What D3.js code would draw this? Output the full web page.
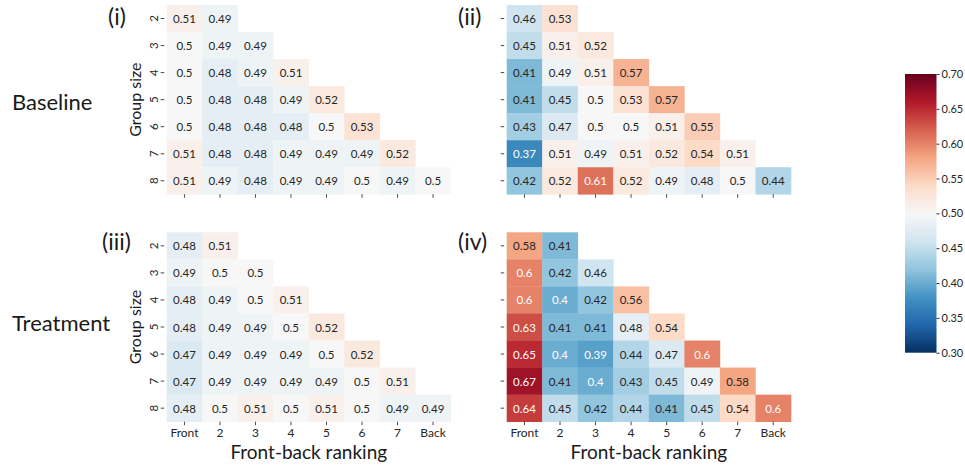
<!DOCTYPE html>
<html>
<head>
<meta charset="utf-8">
<script src="https://cdn.jsdelivr.net/npm/d3@7"></script>
<style>
  html, body { margin: 0; padding: 0; background: #fff; }
  svg { display: block; }
  text { font-family: Lato, "Open Sans", sans-serif; }
</style>
</head>
<body>
<svg id="chart" width="965" height="465"></svg>
<script>
// Group sizes (rows) and front-back positions (columns)
const groupSizes = [2, 3, 4, 5, 6, 7, 8];
const rankLabels = ["Front", "2", "3", "4", "5", "6", "7", "Back"];

// Row n holds n values: positions Front .. n-th
const valuesI = [
  [0.51, 0.49],
  [0.5, 0.49, 0.49],
  [0.5, 0.48, 0.49, 0.51],
  [0.5, 0.48, 0.48, 0.49, 0.52],
  [0.5, 0.48, 0.48, 0.48, 0.5, 0.53],
  [0.51, 0.48, 0.48, 0.49, 0.49, 0.49, 0.52],
  [0.51, 0.49, 0.48, 0.49, 0.49, 0.5, 0.49, 0.5]
];
const valuesII = [
  [0.46, 0.53],
  [0.45, 0.51, 0.52],
  [0.41, 0.49, 0.51, 0.57],
  [0.41, 0.45, 0.5, 0.53, 0.57],
  [0.43, 0.47, 0.5, 0.5, 0.51, 0.55],
  [0.37, 0.51, 0.49, 0.51, 0.52, 0.54, 0.51],
  [0.42, 0.52, 0.61, 0.52, 0.49, 0.48, 0.5, 0.44]
];
const valuesIII = [
  [0.48, 0.51],
  [0.49, 0.5, 0.5],
  [0.48, 0.49, 0.5, 0.51],
  [0.48, 0.49, 0.49, 0.5, 0.52],
  [0.47, 0.49, 0.49, 0.49, 0.5, 0.52],
  [0.47, 0.49, 0.49, 0.49, 0.49, 0.5, 0.51],
  [0.48, 0.5, 0.51, 0.5, 0.51, 0.5, 0.49, 0.49]
];
const valuesIV = [
  [0.58, 0.41],
  [0.6, 0.42, 0.46],
  [0.6, 0.4, 0.42, 0.56],
  [0.63, 0.41, 0.41, 0.48, 0.54],
  [0.65, 0.4, 0.39, 0.44, 0.47, 0.6],
  [0.67, 0.41, 0.4, 0.43, 0.45, 0.49, 0.58],
  [0.64, 0.45, 0.42, 0.44, 0.41, 0.45, 0.54, 0.6]
];

const colorTicks = [0.30, 0.35, 0.40, 0.45, 0.50, 0.55, 0.60, 0.65, 0.70];
const rowTitles = ["Baseline", "Treatment"];

// Reversed red-blue diverging palette, linearly interpolated between 11 anchors
const rdbuR = ["#053061", "#2166ac", "#4393c3", "#92c5de", "#d1e5f0", "#f7f7f7",
               "#fddbc7", "#f4a582", "#d6604d", "#b2182b", "#67001f"];
const vmin = 0.3, vmax = 0.7;
const color = d3.scaleLinear()
  .domain(rdbuR.map((_, i) => vmin + (vmax - vmin) * i / (rdbuR.length - 1)))
  .range(rdbuR)
  .interpolate(d3.interpolateRgb)
  .clamp(true);

function luminance(c) {
  const rgb = d3.rgb(c);
  const lin = v => { v /= 255; return v <= 0.03928 ? v / 12.92 : Math.pow((v + 0.055) / 1.055, 2.4); };
  return 0.2126 * lin(rgb.r) + 0.7152 * lin(rgb.g) + 0.0722 * lin(rgb.b);
}

const svg = d3.select("#chart");

const panels = [
  { data: valuesI,   label: "(i)",   lx: 108, ly: 25,  x0: 166.7, x1: 450.8, y0: 5,     y1: 194.3, yLabels: true,  xLabels: false },
  { data: valuesII,  label: "(ii)",  lx: 458, ly: 25,  x0: 506.7, x1: 791,   y0: 5,     y1: 194.3, yLabels: false, xLabels: false },
  { data: valuesIII, label: "(iii)", lx: 102, ly: 250, x0: 166.7, x1: 450.8, y0: 232.3, y1: 421.7, yLabels: true,  xLabels: true },
  { data: valuesIV,  label: "(iv)",  lx: 458, ly: 250, x0: 506.7, x1: 791,   y0: 232.3, y1: 421.7, yLabels: false, xLabels: true }
];

panels.forEach(p => {
  const x = d3.scaleBand().domain(rankLabels).range([p.x0, p.x1]);
  const y = d3.scaleBand().domain(groupSizes).range([p.y0, p.y1]);
  const g = svg.append("g");

  const cells = [];
  p.data.forEach((row, ri) => {
    row.forEach((v, ci) => cells.push({ size: groupSizes[ri], rank: rankLabels[ci], v }));
  });

  g.selectAll("rect.cell").data(cells).join("rect")
    .attr("class", "cell")
    .attr("x", d => x(d.rank))
    .attr("y", d => y(d.size))
    .attr("width", x.bandwidth() + 0.3)
    .attr("height", y.bandwidth() + 0.3)
    .attr("fill", d => color(d.v));

  g.selectAll("text.annot").data(cells).join("text")
    .attr("class", "annot")
    .attr("x", d => x(d.rank) + x.bandwidth() / 2)
    .attr("y", d => y(d.size) + y.bandwidth() / 2)
    .attr("text-anchor", "middle")
    .attr("dominant-baseline", "central")
    .attr("font-size", 11.5)
    .attr("fill", d => luminance(color(d.v)) > 0.408 ? "#262626" : "#ffffff")
    .text(d => String(d.v));

  // y axis ticks (and labels on the left column)
  const yAxis = g.append("g")
    .attr("transform", `translate(${p.x0 - 2.5},0)`)
    .call(d3.axisLeft(y).tickSize(3.5).tickPadding(4)
      .tickFormat(p.yLabels ? (d => d) : () => ""));
  yAxis.select(".domain").remove();
  yAxis.selectAll(".tick line").attr("stroke", "#333").attr("stroke-width", 0.9);
  yAxis.selectAll(".tick text")
    .attr("font-family", "Lato, sans-serif")
    .attr("font-size", 11.5)
    .attr("fill", "#262626")
    .attr("x", 0).attr("dy", 0)
    .attr("text-anchor", "middle")
    .attr("dominant-baseline", "central")
    .attr("transform", "translate(-11,0) rotate(-90)");

  // x axis ticks (and labels on the bottom row)
  const xAxis = g.append("g")
    .attr("transform", `translate(0,${p.y1})`)
    .call(d3.axisBottom(x).tickSize(3.5).tickPadding(3)
      .tickFormat(p.xLabels ? (d => d) : () => ""));
  xAxis.select(".domain").remove();
  xAxis.selectAll(".tick line").attr("stroke", "#333").attr("stroke-width", 0.9);
  xAxis.selectAll(".tick text")
    .attr("font-family", "Lato, sans-serif")
    .attr("font-size", 12)
    .attr("fill", "#262626");

  if (p.xLabels) {
    g.append("text")
      .attr("x", (p.x0 + p.x1) / 2)
      .attr("y", p.y1 + 37)
      .attr("text-anchor", "middle")
      .attr("font-size", 19)
      .attr("fill", "#1a1a1a")
      .text("Front-back ranking");
  }
  if (p.yLabels) {
    g.append("text")
      .attr("transform", `translate(${p.x0 - 26},${(p.y0 + p.y1) / 2}) rotate(-90)`)
      .attr("text-anchor", "middle")
      .attr("font-size", 16)
      .attr("fill", "#1a1a1a")
      .text("Group size");
  }

  svg.append("text")
    .attr("x", p.lx)
    .attr("y", p.ly)
    .attr("font-size", 23)
    .attr("fill", "#1a1a1a")
    .text(p.label);
});

// Row titles
svg.append("text").attr("x", 12).attr("y", 110).attr("font-size", 22)
  .attr("fill", "#1a1a1a").text(rowTitles[0]);
svg.append("text").attr("x", 12).attr("y", 331).attr("font-size", 22)
  .attr("fill", "#1a1a1a").text(rowTitles[1]);

// Colour bar
const cbX = 905, cbW = 31.5, cbTop = 74, cbBottom = 352.7;
const defs = svg.append("defs");
const grad = defs.append("linearGradient")
  .attr("id", "cbGrad")
  .attr("x1", 0).attr("y1", 1).attr("x2", 0).attr("y2", 0);
grad.selectAll("stop").data(rdbuR).join("stop")
  .attr("offset", (_, i) => i / (rdbuR.length - 1))
  .attr("stop-color", d => d);
svg.append("rect")
  .attr("x", cbX).attr("y", cbTop)
  .attr("width", cbW).attr("height", cbBottom - cbTop)
  .attr("fill", "url(#cbGrad)");

const cbScale = d3.scaleLinear().domain([vmin, vmax]).range([cbBottom, cbTop]);
const cbAxis = svg.append("g")
  .attr("transform", `translate(${cbX + cbW},0)`)
  .call(d3.axisRight(cbScale).tickValues(colorTicks).tickFormat(d3.format(".2f"))
    .tickSize(3).tickPadding(2));
cbAxis.select(".domain").remove();
cbAxis.selectAll(".tick line").attr("stroke", "#333");
cbAxis.selectAll(".tick text")
  .attr("font-family", "'Liberation Serif', 'DejaVu Serif', serif")
  .attr("font-size", 11)
  .attr("fill", "#262626");
</script>
</body>
</html>
